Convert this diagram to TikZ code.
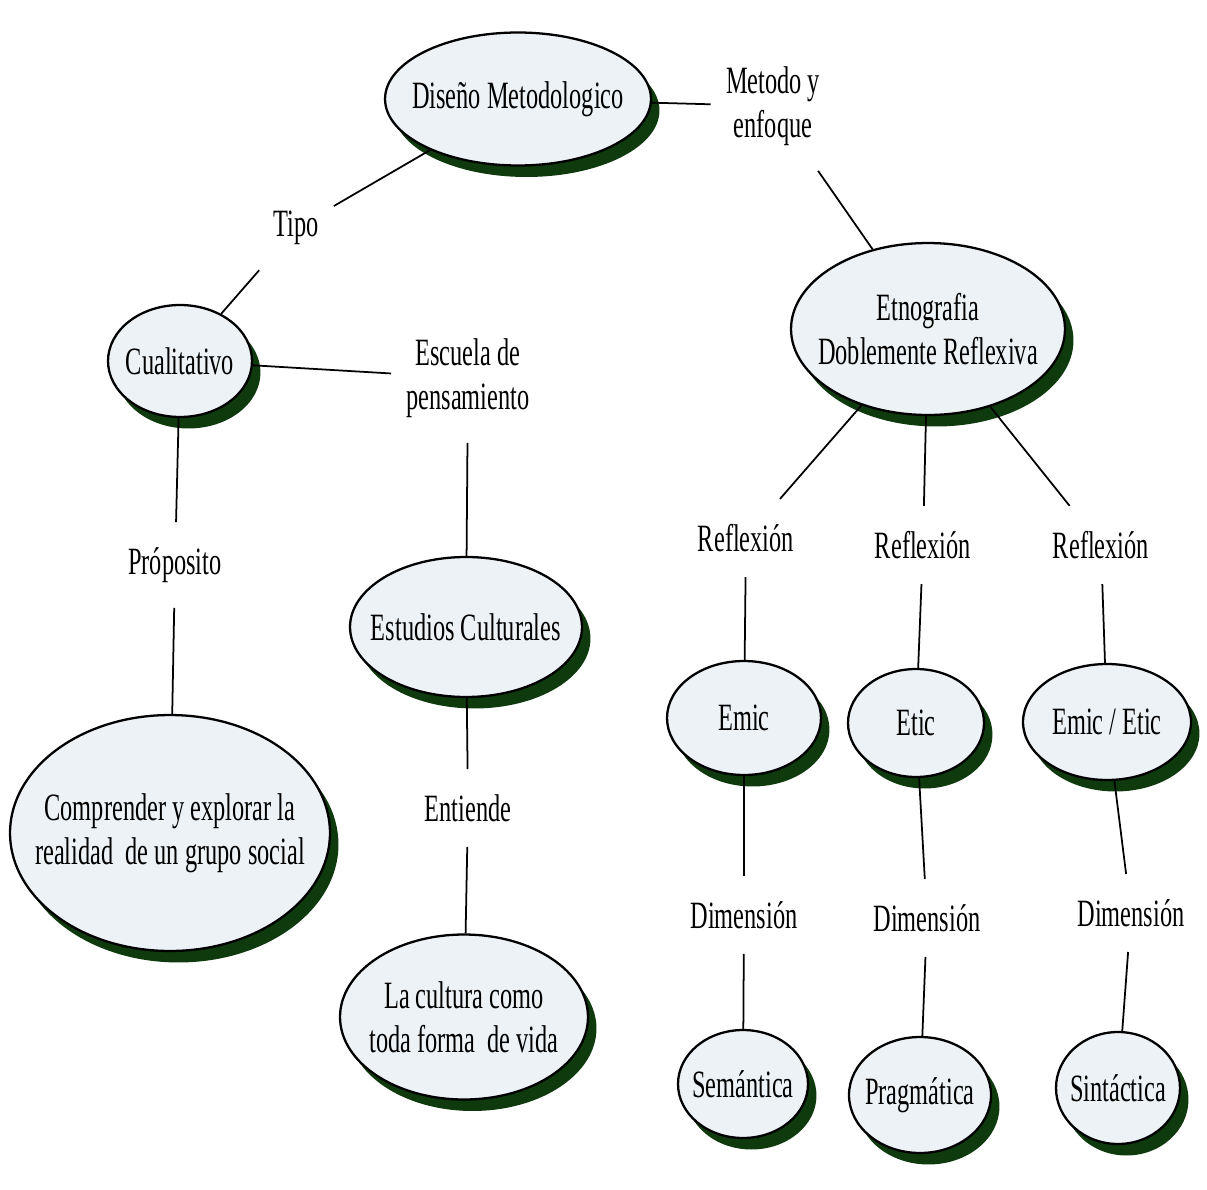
\documentclass[tikz,border=0pt]{standalone}
\usepackage{fontspec}
\setmainfont[FakeStretch=0.63]{Liberation Serif}
\usepackage{tikz}
\usetikzlibrary{shapes.geometric}
\usetikzlibrary{shadows}
\definecolor{fondoburbuja}{RGB}{236,242,246}
\definecolor{sombra}{RGB}{14,58,14}

\begin{document}
\begin{tikzpicture}[x=0.02cm,y=-0.02cm,font={\fontsize{22}{25}\selectfont},
  burbuja/.style={ellipse, draw=black, line width=1.3pt, fill=fondoburbuja,
    inner sep=-3cm, align=center,
    drop shadow={shadow xshift=0.17cm, shadow yshift=-0.23cm, fill=sombra, opacity=1}},
  etiqueta/.style={inner xsep=0.3cm, inner ysep=0.5cm, align=center},
  linea/.style={line width=1pt}]

\useasboundingbox (0,0) rectangle (1207,1190);

% ================== Burbujas ==================
\node[burbuja, minimum width=5.32cm, minimum height=2.66cm] (diseno) at (518,99) {Diseño Metodologico};
\node[burbuja, minimum width=2.88cm, minimum height=2.24cm] (cualit) at (180,361) {Cualitativo};
\node[burbuja, minimum width=5.48cm, minimum height=3.44cm] (etno) at (928,329) {Etnografia\\Doblemente Reflexiva};
\node[burbuja, minimum width=4.64cm, minimum height=2.80cm] (estudios) at (466,627) {Estudios Culturales};
\node[burbuja, minimum width=6.40cm, minimum height=4.72cm] (comprender) at (170,833) {Comprender y explorar la\\realidad\ \ de un grupo social};
\node[burbuja, minimum width=4.96cm, minimum height=3.30cm] (cultura) at (464,1017) {La cultura como\\toda forma\ \ de vida};

\node[burbuja, minimum width=3.08cm, minimum height=2.28cm] (emic) at (744,718) {Emic};
\node[burbuja, minimum width=2.72cm, minimum height=2.16cm] (etic) at (916,723) {Etic};
\node[burbuja, minimum width=3.36cm, minimum height=2.32cm] (emicetic) at (1107,722) {Emic / Etic};

\node[burbuja, minimum width=2.60cm, minimum height=2.16cm] (semantica) at (743,1084) {Semántica};
\node[burbuja, minimum width=2.84cm, minimum height=2.32cm] (pragmatica) at (920,1095) {Pragmática};
\node[burbuja, minimum width=2.48cm, minimum height=2.24cm] (sintactica) at (1118,1088) {Sintáctica};

% ================== Etiquetas ==================
\node[etiqueta] (metodo) at (773,106) {Metodo y\\enfoque};
\node[etiqueta] (tipo) at (296,228) {Tipo};
\node[etiqueta] (escuela) at (468,378) {Escuela de\\pensamiento};
\node[etiqueta] (proposito) at (175,565) {Próposito};
\node[etiqueta] (entiende) at (468,808) {Entiende};

\foreach \i/\x/\y in {1/746/538, 2/923/545, 3/1101/545}
  \node[etiqueta] (refl\i) at (\x,\y) {Reflexión};
\foreach \i/\x/\y in {1/744/915, 2/927/918, 3/1131/913}
  \node[etiqueta] (dim\i) at (\x,\y) {Dimensión};

% ================== Conexiones ==================
\foreach \a/\b in {diseno/metodo, metodo/etno, diseno/tipo, tipo/cualit,
                   cualit/escuela, escuela/estudios, cualit/proposito,
                   proposito/comprender, estudios/entiende, entiende/cultura,
                   etno/refl1, etno/refl2, etno/refl3,
                   refl1/emic, refl2/etic, refl3/emicetic,
                   emic/dim1, etic/dim2, emicetic/dim3,
                   dim1/semantica, dim2/pragmatica, dim3/sintactica}
  \draw[linea] (\a) -- (\b);

\end{tikzpicture}
\end{document}
